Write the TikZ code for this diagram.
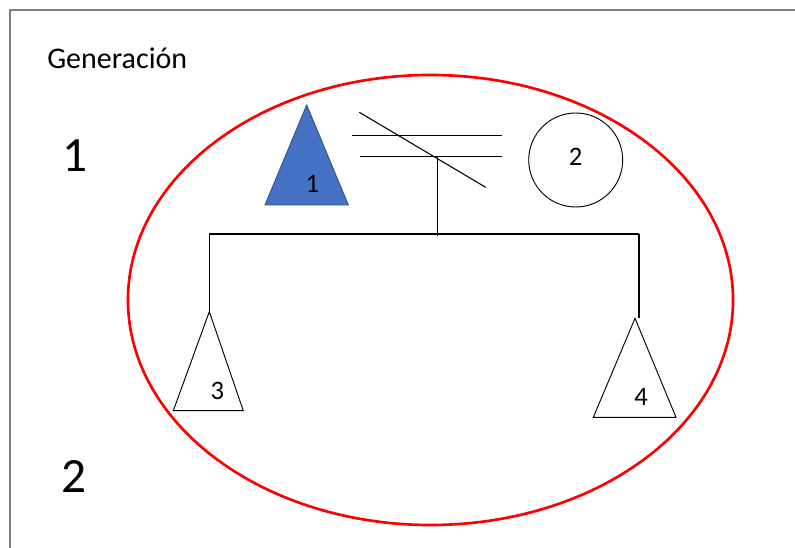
\documentclass[tikz,border=0pt]{standalone}
\usepackage{fontspec}
\setmainfont{Carlito}
\usepackage{xcolor}
\usepackage{tikz}
\usetikzlibrary{positioning}

\definecolor{affected}{HTML}{4472C4}
\definecolor{affectededge}{HTML}{2F528F}
\definecolor{framegray}{HTML}{7F7F7F}

\begin{document}
\begin{tikzpicture}[
    x=0.75pt, y=-0.75pt,
    every node/.style={font=\fontsize{20}{24}\selectfont, inner sep=0pt},
    genlabel/.style={font=\fontsize{37}{44}\selectfont, anchor=base},
    tri/.style={draw, line width=0.7pt, line join=miter},
    kin/.style={line width=0.8pt}
  ]
  \useasboundingbox (0,0) rectangle (795,548);

  % ── Frame (top and left only) ───────────────────────────────────────────
  \draw[framegray, line width=1.1pt] (795,10) -- (10,10) -- (10,548);

  % ── Generation labels ───────────────────────────────────────────────────
  \node[anchor=base west, font=\fontsize{22.5}{26}\selectfont] (title) at (47,69) {Generación};
  \node[genlabel] (gen1) at (75,172) {1};
  \node[genlabel] (gen2) at (74,492) {2};

  % ── Family circle ───────────────────────────────────────────────────────
  % centre (430,300), half-widths 302 x 225 px
  \draw[red, line width=2pt] (430.5,300) ellipse (226.9pt and 168.75pt);

  % ── Generation 1: parents ───────────────────────────────────────────────
  \coordinate (p1) at (306.7,105);
  \draw[tri, fill=affected, draw=affectededge] (p1) -- (265,205) -- (348.3,205) -- cycle;
  \node (lab1) at (312.5,184) {1};

  \node[circle, draw, line width=0.7pt, minimum size=70.5pt] (p2) at (575.7,160) {};
  \node (lab2) at (575.5,157) {2};

  % divorce / separation marks
  \coordinate (m1) at (351.7,135.7);
  \coordinate (m2) at (501.7,135.7);
  \coordinate (m3) at (360,156.7);
  \coordinate (m4) at (501.7,156.7);
  \coordinate (s1) at (359.3,112.3);
  \coordinate (s2) at (485.7,187.3);
  \draw[kin] (m1) -- (m2);
  \draw[kin] (m3) -- (m4);
  \draw[line width=0.8pt] (s1) -- (s2);

  % descent line and sibship line
  \coordinate (mar) at (437.7,156.7);
  \coordinate (mid) at (437.7,236.5);
  \coordinate (sibL) at (209.3,234);
  \coordinate (sibR) at (639,234);
  \draw[kin] (mar) -- (mid);
  \draw[kin] (sibL) -- (sibR);

  % ── Generation 2: children ──────────────────────────────────────────────
  \coordinate (c3) at (209.3,311.7);
  \draw[tri] (c3) -- (173.3,410.7) -- (243.3,410.7) -- cycle;
  \node (lab3) at (217.5,391) {3};

  \coordinate (c4) at (635,318.3);
  \coordinate (d4) at (639,318.3);
  \draw[tri] (c4) -- (593.3,417.3) -- (676,417.3) -- cycle;
  \node (lab4) at (641,396.5) {4};

  \draw[kin] (sibL) -- (c3);
  \draw[kin] (sibR) -- (d4);

\end{tikzpicture}
\end{document}
